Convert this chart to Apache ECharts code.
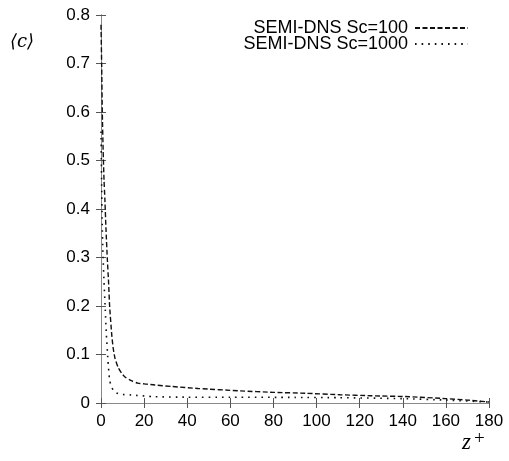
<!DOCTYPE html>
<html><head><meta charset="utf-8">
<script src="https://cdn.jsdelivr.net/npm/echarts@6/dist/echarts.min.js"></script>
<style>html,body{margin:0;padding:0;background:#fff}#c{width:509px;height:461px}</style>
</head><body><div id="c"></div>
<script>
const sc100Z = [0, 0.3, 0.6, 1, 1.4, 1.8, 2.3, 2.9, 3.5, 4, 5, 5.6, 6.5, 7.9, 9.5, 11, 14, 17, 21, 25, 33, 45, 64.5, 80, 95, 111, 125, 143, 160, 170, 180];
const sc100C = [0.78, 0.70, 0.60, 0.52, 0.46, 0.42, 0.36, 0.30, 0.25, 0.20, 0.14, 0.115, 0.092, 0.074, 0.062, 0.054, 0.046, 0.041, 0.039, 0.037, 0.034, 0.030, 0.025, 0.022, 0.020, 0.017, 0.015, 0.013, 0.009, 0.006, 0.002];
const sc1000Z = [0, 0.3, 0.5, 0.9, 1.4, 2, 2.5, 3.2, 4, 5, 6, 7.1, 9, 14, 25, 40, 60, 90, 110, 140, 160, 180];
const sc1000C = [0.56, 0.45, 0.38, 0.31, 0.25, 0.19, 0.14, 0.09, 0.047, 0.032, 0.025, 0.021, 0.018, 0.0165, 0.013, 0.012, 0.012, 0.0115, 0.011, 0.009, 0.006, 0.002];
const seriesNames = ['SEMI-DNS Sc=100', 'SEMI-DNS Sc=1000'];
const xTicks = [0, 20, 40, 60, 80, 100, 120, 140, 160, 180];
const yTicks = [0, 0.1, 0.2, 0.3, 0.4, 0.5, 0.6, 0.7, 0.8];

const font = 'Liberation Sans, Arial, sans-serif';
const axisGray = '#8a8a8a';
const chart = echarts.init(document.getElementById('c'), null, {renderer: 'canvas'});
const pairs = (xs, ys) => xs.map((x, i) => [x, ys[i]]);
const baseX = {
  type: 'value', min: xTicks[0], max: xTicks[xTicks.length - 1], interval: 20,
  axisLine: {show: true, lineStyle: {color: axisGray, width: 1}},
  axisTick: {show: true, inside: true, length: 5, lineStyle: {color: '#555'}},
  splitLine: {show: false}
};
const baseY = {
  type: 'value', min: yTicks[0], max: yTicks[yTicks.length - 1], interval: 0.1,
  axisLine: {show: true, lineStyle: {color: axisGray, width: 1}},
  axisTick: {show: true, inside: true, length: 5, lineStyle: {color: '#555'}},
  splitLine: {show: false}
};
chart.setOption({
  animation: false,
  backgroundColor: '#fff',
  grid: {left: 101, right: 20, top: 15, bottom: 58, containLabel: false},
  xAxis: [
    Object.assign({}, baseX, {position: 'bottom',
      axisLabel: {color: '#000', fontSize: 17, fontFamily: font, margin: 10}}),
    Object.assign({}, baseX, {position: 'top', axisLabel: {show: false}})
  ],
  yAxis: [
    Object.assign({}, baseY, {position: 'left',
      axisLabel: {color: '#000', fontSize: 17, fontFamily: font, margin: 11,
        formatter: v => (Math.abs(v) < 1e-9 ? '0' : v.toFixed(1))}}),
    Object.assign({}, baseY, {position: 'right', axisLabel: {show: false}})
  ],
  legend: {
    orient: 'vertical', right: 40, top: 19, align: 'right', padding: 0,
    itemWidth: 53, itemHeight: 12, itemGap: -2,
    itemStyle: {opacity: 0},
    textStyle: {color: '#000', fontSize: 18, fontFamily: font, padding: [0, 2, 0, 0]},
    data: seriesNames
  },
  series: [
    {name: seriesNames[0], type: 'line', xAxisIndex: 0, yAxisIndex: 0,
     data: pairs(sc100Z, sc100C), showSymbol: false, symbol: 'none', smooth: 0.2,
     lineStyle: {color: '#111', width: 1.4, type: [5, 2.5]}, itemStyle: {color: '#111'}},
    {name: seriesNames[1], type: 'line', xAxisIndex: 0, yAxisIndex: 0,
     data: pairs(sc1000Z, sc1000C), showSymbol: false, symbol: 'none', smooth: 0.2,
     lineStyle: {color: '#111', width: 1.6, type: [1.6, 5]}, itemStyle: {color: '#111'}}
  ],
  graphic: [
    {type: 'text', left: 10, top: 33,
     style: {text: '⟨c⟩', fontSize: 18, fontFamily: 'DejaVu Serif, Liberation Serif, serif', fontStyle: 'italic', fill: '#000'}},
    {type: 'text', left: 462, top: 431,
     style: {text: 'z', fontSize: 23, fontStyle: 'italic', fontFamily: 'Liberation Serif, serif', fill: '#000'}},
    {type: 'text', left: 474, top: 430,
     style: {text: '+', fontSize: 19, fontFamily: 'Liberation Serif, serif', fill: '#000'}}
  ]
});
</script></body></html>
